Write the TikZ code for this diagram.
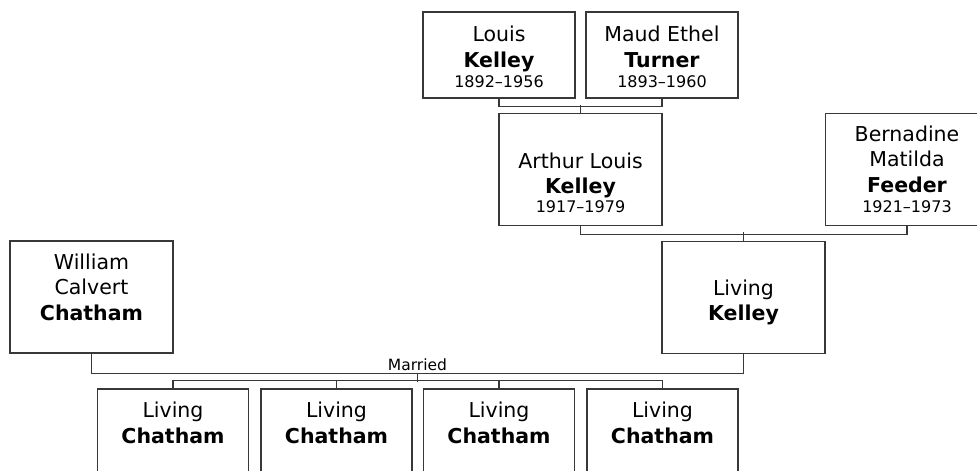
\documentclass[tikz,border=0pt]{standalone}
\usepackage{fontspec}
\setmainfont{DejaVu Sans}
\usetikzlibrary{calc}
\newcommand{\yearsize}{\fontsize{16}{20}\selectfont}
\begin{document}
\begin{tikzpicture}[x=1pt,y=-1pt,
    every node/.style={font=\fontsize{20.5}{25.7}\selectfont,inner sep=0pt},
    personbox/.style={draw=black!78,line width=1.2pt,minimum width=163pt,minimum height=112pt},
    smallbox/.style={personbox,minimum width=152pt,minimum height=86pt},
    childbox/.style={personbox,minimum width=151pt},
    nametext/.style={align=center,anchor=base},
    link/.style={draw=black!78,line width=1.2pt}]
    \useasboundingbox (0,0) rectangle (977,471);
    \clip (0,0) rectangle (977,471);
    \begin{scope}
        \node[smallbox] (louis) at (499,55) {};
        \node[smallbox] (maud) at (662,55) {};
        \node[nametext] (louis-text) at ($(louis.north)+(0,76.3)$)
            {Louis\\\textbf{Kelley}\\[-5pt]{\yearsize 1892–1956}};
        \node[nametext] (maud-text) at ($(maud.north)+(0,76.3)$)
            {Maud Ethel\\\textbf{Turner}\\[-5pt]{\yearsize 1893–1960}};
        \draw[link] (louis.south) -- ++(0,8) -| (maud.south);
    \end{scope}
    \begin{scope}
        \node[personbox] (arthur) at (580.5,169.5) {};
        \node[personbox] (bernadine) at (907,169.5) {};
        \node[nametext] (arthur-text) at ($(arthur.north)+(0,100)$)
            {Arthur Louis\\\textbf{Kelley}\\[-6.5pt]{\yearsize 1917–1979}};
        \node[nametext] (bernadine-text) at ($(bernadine.north)+(0,99.5)$)
            {Bernadine\\Matilda\\\textbf{Feeder}\\[-5.7pt]{\yearsize 1921–1973}};
        \draw[link] (arthur.north) -- ++(0,-8);
        \draw[link] (arthur.south) -- ++(0,8) -| (bernadine.south);
    \end{scope}
    \begin{scope}
        \node[personbox] (william) at (91.5,297) {};
        \node[personbox] (living) at (743.5,297.5) {};
        \node[nametext] (william-text) at ($(william.north)+(0,80)$)
            {William\\Calvert\\\textbf{Chatham}};
        \node[nametext] (living-text) at ($(living.north)+(0,80)$)
            {Living\\\textbf{Kelley}};
        \draw[link] (living.north) -- ++(0,-8.5);
        \draw[link] (william.south) -- ++(0,20) -| (living.south);
        \coordinate (wedding) at ($(william.south)!0.5!(living.south)+(0,20)$);
        \node[anchor=base,font=\fontsize{15.5}{18}\selectfont] (married)
            at ($(wedding)+(0,-3)$) {Married};
        \draw[link] (wedding) -- ++(0,8);
    \end{scope}
    \begin{scope}
        \node[childbox] (child1) at (173,445) {};
        \node[childbox] (child2) at (336.5,445) {};
        \node[childbox] (child3) at (499,445) {};
        \node[childbox] (child4) at (662.5,445) {};
        \node[nametext] (child1-text) at ($(child1.north)+(0,55)$) {Living\\\textbf{Chatham}};
        \node[nametext] (child2-text) at ($(child2.north)+(0,55)$) {Living\\\textbf{Chatham}};
        \node[nametext] (child3-text) at ($(child3.north)+(0,55)$) {Living\\\textbf{Chatham}};
        \node[nametext] (child4-text) at ($(child4.north)+(0,55)$) {Living\\\textbf{Chatham}};
        \draw[link] (child1.north) -- ++(0,-8) -| (child4.north);
        \draw[link] (child2.north) -- ++(0,-8);
        \draw[link] (child3.north) -- ++(0,-8);
    \end{scope}
\end{tikzpicture}
\end{document}
